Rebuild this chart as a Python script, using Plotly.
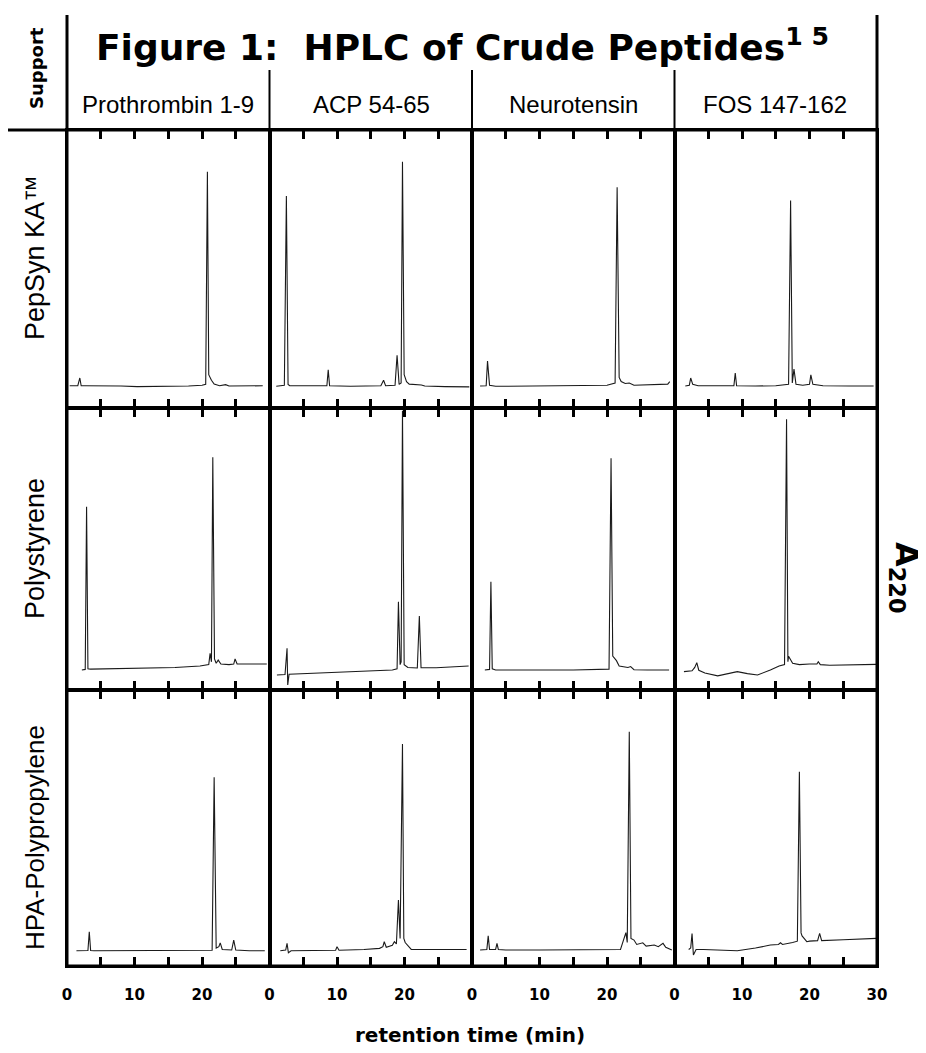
import plotly.graph_objects as go
from plotly.subplots import make_subplots

columns = ["Prothrombin 1-9", "ACP 54-65", "Neurotensin", "FOS 147-162"]
supports = ["PepSyn KA™", "Polystyrene", "HPA-Polypropylene"]
tick_vals = [0, 5, 10, 15, 20, 25, 30]
tick_text_inner = ["0", "", "10", "", "20", "", ""]
tick_text_last = ["0", "", "10", "", "20", "", "30"]

# retention time (min) and A220 (relative to panel height)
pepsyn_prothrombin_t = [0.4, 1.6, 1.9, 2.1, 2.6, 5.0, 8.0, 10.4, 14.0, 18.0, 20.0, 20.55, 20.8, 21.0, 21.4, 21.8, 22.6, 23.5, 24.0, 26.0, 29.0]
pepsyn_prothrombin_a = [0.080, 0.080, 0.108, 0.080, 0.080, 0.080, 0.079, 0.077, 0.077, 0.079, 0.082, 0.085, 0.850, 0.120, 0.100, 0.086, 0.080, 0.084, 0.079, 0.080, 0.080]

pepsyn_acp_t = [1.0, 2.2, 2.5, 2.75, 3.0, 6.0, 8.5, 8.7, 8.9, 12.0, 16.5, 16.9, 17.2, 18.6, 18.9, 19.2, 19.5, 19.7, 19.95, 20.3, 20.7, 22.5, 23.0, 26.0, 29.6]
pepsyn_acp_a = [0.078, 0.082, 0.763, 0.085, 0.080, 0.079, 0.080, 0.137, 0.080, 0.078, 0.080, 0.100, 0.080, 0.082, 0.190, 0.085, 0.090, 0.886, 0.120, 0.095, 0.086, 0.083, 0.079, 0.077, 0.076]

pepsyn_neurotensin_t = [1.2, 2.1, 2.3, 2.6, 3.5, 8.0, 14.0, 20.0, 21.2, 21.5, 21.8, 22.1, 22.7, 23.3, 24.0, 27.0, 29.0, 29.3]
pepsyn_neurotensin_a = [0.079, 0.080, 0.169, 0.082, 0.078, 0.079, 0.079, 0.082, 0.090, 0.794, 0.110, 0.095, 0.088, 0.090, 0.082, 0.083, 0.086, 0.095]

pepsyn_fos_t = [1.6, 2.2, 2.4, 2.7, 3.5, 6.0, 8.8, 9.0, 9.2, 12.0, 15.0, 16.9, 17.2, 17.45, 17.7, 18.0, 19.0, 20.0, 20.2, 20.5, 22.0, 26.0, 29.5]
pepsyn_fos_a = [0.079, 0.082, 0.108, 0.085, 0.080, 0.079, 0.080, 0.126, 0.080, 0.079, 0.080, 0.085, 0.746, 0.090, 0.140, 0.085, 0.082, 0.085, 0.119, 0.085, 0.080, 0.079, 0.079]

poly_prothrombin_t = [2.2, 2.7, 2.9, 3.1, 3.5, 7.0, 11.3, 16.0, 19.7, 21.0, 21.2, 21.4, 21.6, 21.85, 22.1, 22.4, 22.8, 24.0, 24.7, 24.9, 25.2, 27.0, 29.6]
poly_prothrombin_a = [0.071, 0.073, 0.650, 0.075, 0.074, 0.075, 0.077, 0.080, 0.085, 0.090, 0.130, 0.100, 0.825, 0.110, 0.095, 0.106, 0.092, 0.090, 0.092, 0.110, 0.092, 0.092, 0.092]

poly_acp_t = [1.1, 2.3, 2.6, 2.7, 2.9, 5.0, 8.4, 12.0, 16.0, 18.2, 18.9, 19.1, 19.35, 19.5, 19.7, 19.95, 20.5, 21.9, 22.2, 22.45, 24.7, 27.0, 29.5]
poly_acp_a = [0.053, 0.055, 0.148, 0.018, 0.056, 0.058, 0.061, 0.065, 0.069, 0.071, 0.075, 0.313, 0.090, 0.100, 0.990, 0.090, 0.080, 0.078, 0.262, 0.079, 0.079, 0.082, 0.085]

poly_neurotensin_t = [1.9, 2.6, 2.8, 3.0, 3.5, 6.2, 10.0, 15.0, 20.3, 20.6, 20.85, 21.4, 21.8, 22.5, 23.1, 23.5, 24.0, 26.0, 29.2]
poly_neurotensin_a = [0.071, 0.073, 0.384, 0.075, 0.071, 0.071, 0.071, 0.071, 0.074, 0.822, 0.120, 0.104, 0.085, 0.083, 0.080, 0.083, 0.072, 0.071, 0.071]

poly_fos_t = [1.4, 2.6, 3.0, 3.3, 3.6, 4.5, 6.4, 8.0, 9.3, 10.8, 12.3, 14.2, 15.5, 16.3, 16.6, 16.8, 16.9, 17.5, 18.5, 20.0, 21.1, 21.3, 21.6, 23.0, 26.0, 29.9]
poly_fos_a = [0.065, 0.068, 0.080, 0.097, 0.070, 0.060, 0.050, 0.058, 0.065, 0.058, 0.053, 0.071, 0.085, 0.090, 0.960, 0.100, 0.120, 0.095, 0.090, 0.092, 0.092, 0.100, 0.090, 0.088, 0.090, 0.091]

hpa_prothrombin_t = [1.4, 3.1, 3.3, 3.5, 4.0, 8.0, 13.0, 18.0, 21.5, 21.8, 22.1, 22.5, 22.7, 23.0, 24.4, 24.7, 25.0, 27.0, 29.3]
hpa_prothrombin_a = [0.055, 0.056, 0.124, 0.056, 0.055, 0.055, 0.056, 0.055, 0.057, 0.684, 0.065, 0.070, 0.084, 0.060, 0.058, 0.094, 0.058, 0.055, 0.055]

hpa_acp_t = [1.6, 2.4, 2.6, 2.8, 3.2, 6.0, 9.8, 10.0, 10.3, 14.0, 16.3, 16.8, 17.0, 17.3, 18.2, 18.5, 18.8, 19.1, 19.35, 19.7, 19.9, 20.1, 21.0, 25.0, 29.2]
hpa_acp_a = [0.055, 0.058, 0.082, 0.048, 0.055, 0.055, 0.057, 0.070, 0.057, 0.060, 0.064, 0.070, 0.088, 0.068, 0.075, 0.088, 0.080, 0.239, 0.100, 0.804, 0.100, 0.085, 0.060, 0.060, 0.060]

hpa_neurotensin_t = [1.2, 2.2, 2.4, 2.6, 3.5, 3.7, 3.9, 5.0, 10.0, 16.0, 22.0, 22.8, 23.0, 23.3, 23.55, 24.0, 24.4, 25.3, 25.8, 27.0, 27.6, 28.3, 28.7, 29.6]
hpa_neurotensin_a = [0.058, 0.060, 0.109, 0.060, 0.060, 0.082, 0.060, 0.058, 0.058, 0.058, 0.060, 0.121, 0.085, 0.849, 0.100, 0.094, 0.078, 0.084, 0.072, 0.076, 0.070, 0.082, 0.068, 0.058]

hpa_fos_t = [2.1, 2.4, 2.6, 2.8, 3.2, 4.3, 9.3, 12.0, 14.2, 15.4, 15.7, 16.0, 17.5, 18.2, 18.5, 18.75, 18.9, 19.6, 20.0, 21.2, 21.5, 21.8, 25.0, 29.9]
hpa_fos_a = [0.060, 0.065, 0.118, 0.040, 0.060, 0.060, 0.055, 0.065, 0.076, 0.078, 0.084, 0.078, 0.085, 0.090, 0.704, 0.120, 0.109, 0.088, 0.090, 0.092, 0.118, 0.092, 0.095, 0.100]

traces = [
    [(pepsyn_prothrombin_t, pepsyn_prothrombin_a), (pepsyn_acp_t, pepsyn_acp_a),
     (pepsyn_neurotensin_t, pepsyn_neurotensin_a), (pepsyn_fos_t, pepsyn_fos_a)],
    [(poly_prothrombin_t, poly_prothrombin_a), (poly_acp_t, poly_acp_a),
     (poly_neurotensin_t, poly_neurotensin_a), (poly_fos_t, poly_fos_a)],
    [(hpa_prothrombin_t, hpa_prothrombin_a), (hpa_acp_t, hpa_acp_a),
     (hpa_neurotensin_t, hpa_neurotensin_a), (hpa_fos_t, hpa_fos_a)],
]

W, H = 926, 1053
OFF = 8  # page body offset
ML, MR, MT, MB = 67 - OFF, 49 + OFF, 130 - OFF, 87 + OFF
PX0, PX1, PY0, PY1 = 67, 877, 130, 966  # plot area in page pixels
PW, PH = PX1 - PX0, PY1 - PY0


def px(xp):
    return (xp - PX0) / PW


def py(yp):
    return (PY1 - yp) / PH


FONT = "Liberation Sans"
BFONT = "DejaVu Sans"

fig = make_subplots(rows=3, cols=4, horizontal_spacing=0, vertical_spacing=0,
                    row_heights=[278, 282, 276])

for r in range(3):
    for c in range(4):
        t, a = traces[r][c]
        fig.add_trace(go.Scatter(x=t, y=a, mode="lines",
                                 line=dict(color="#1a1a1a", width=1.1),
                                 showlegend=False, hoverinfo="skip"),
                      row=r + 1, col=c + 1)
        fig.update_xaxes(range=[0, 30], tickvals=tick_vals,
                         ticktext=(tick_text_last if c == 3 else tick_text_inner),
                         showticklabels=(r == 2),
                         ticks="inside", ticklen=9, tickwidth=3, tickcolor="black",
                         showline=True, linewidth=1.5, linecolor="black", mirror="ticks",
                         showgrid=False, zeroline=False,
                         ticklabelstandoff=14,
                         tickfont=dict(family=BFONT, size=15, color="black", weight="bold"),
                         row=r + 1, col=c + 1)
        fig.update_yaxes(range=[0, 1], showticklabels=False, ticks="",
                         showline=True, linewidth=1.5, linecolor="black", mirror=True,
                         showgrid=False, zeroline=False,
                         row=r + 1, col=c + 1)

shapes = []
for xp in [0, 1]:
    shapes.append(dict(type="line", xref="paper", yref="paper", x0=xp, x1=xp,
                       y0=0, y1=py(15), line=dict(color="black", width=3)))
for xp in [0.25, 0.5, 0.75]:
    shapes.append(dict(type="line", xref="paper", yref="paper", x0=xp, x1=xp,
                       y0=1, y1=py(70), line=dict(color="black", width=2)))
shapes.append(dict(type="line", xref="paper", yref="paper", x0=px(0), x1=1,
                   y0=1, y1=1, line=dict(color="black", width=3)))
shapes.append(dict(type="line", xref="paper", yref="paper", x0=0, x1=1,
                   y0=0, y1=0, line=dict(color="black", width=3)))


def ann(text, x, y, size, family=FONT, bold=False, angle=0):
    f = dict(family=family, size=size, color="black")
    if bold:
        f["weight"] = "bold"
    return dict(text=text, x=px(x), y=py(y), xref="paper", yref="paper",
                xanchor="center", yanchor="middle", showarrow=False,
                textangle=angle, font=f)


annotations = [
    ann("Figure 1:  HPLC of Crude Peptides<sup>1 5</sup>", 462, 45, 36, BFONT, bold=True),
    ann("Support", 37, 68, 18, BFONT, bold=True, angle=-90),
    ann("A<sub>220</sub>", 905, 578, 32, BFONT, bold=True, angle=90),
    ann("retention time (min)", 470, 1035, 20, BFONT, bold=True),
]
col_centers = [168, 371, 573, 775]
for name, xc in zip(columns, col_centers):
    annotations.append(ann(name, xc, 104, 24))
row_centers = [258, 549, 838]
row_sizes = [27, 27, 26]
for name, yc, sz in zip(supports, row_centers, row_sizes):
    annotations.append(ann(name, 35, yc, sz, angle=-90))

fig.update_layout(width=W, height=H, autosize=False,
                  margin=dict(l=ML, r=MR, t=MT, b=MB),
                  paper_bgcolor="white", plot_bgcolor="white",
                  shapes=shapes, annotations=annotations)

fig.write_html("out.html")
